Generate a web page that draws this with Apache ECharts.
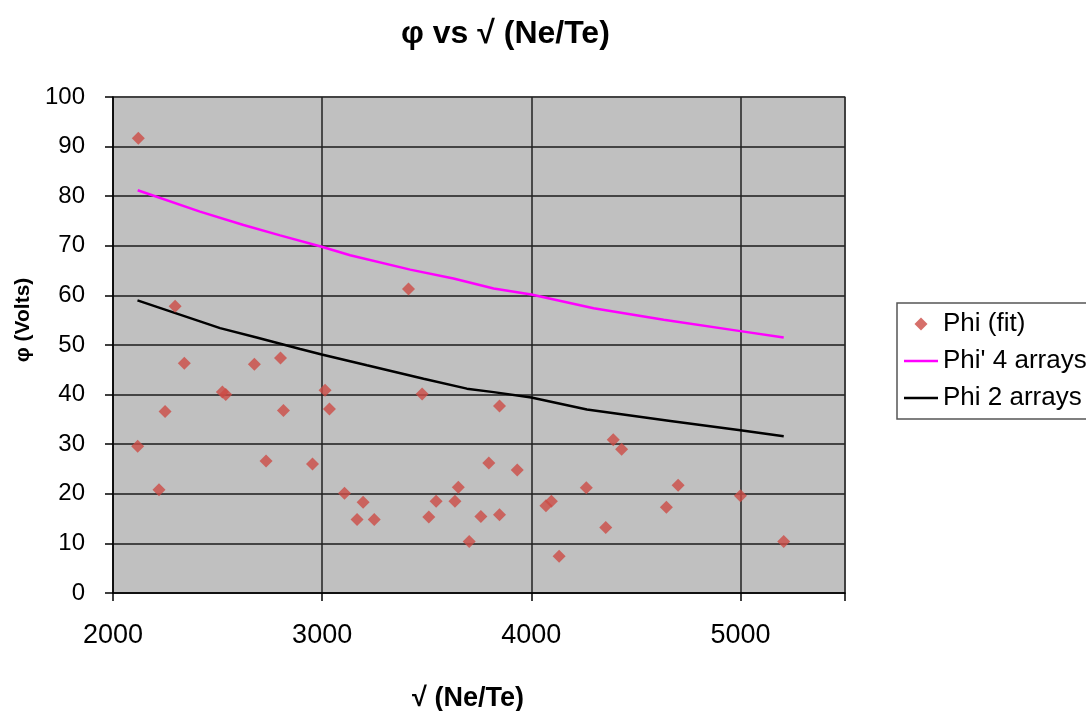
<!DOCTYPE html>
<html>
<head>
<meta charset="utf-8">
<script src="https://cdn.jsdelivr.net/npm/echarts@6/dist/echarts.min.js"></script>
<style>html,body{margin:0;padding:0;background:#fff}#c{width:1086px;height:711px}</style>
</head>
<body>
<div id="c"></div>
<script>
var fitX = [2121,2118,2220,2249,2297,2341,2523,2539,2676,2732,2801,2815,2954,3014,3035,3107,3167,3196,3249,3413,3478,3510,3545,3635,3651,3703,3759,3797,3848,3848,3933,4070,4096,4133,4263,4356,4392,4432,4646,4702,5000,5207];
var fitY = [91.7,29.6,20.8,36.6,57.8,46.3,40.5,40.0,46.1,26.6,47.4,36.8,26.0,40.9,37.1,20.1,14.8,18.3,14.8,61.3,40.1,15.3,18.5,18.5,21.3,10.4,15.4,26.2,37.7,15.8,24.8,17.6,18.5,7.4,21.2,13.2,30.9,29.0,17.3,21.7,19.6,10.4];
var phi4X = [2118,2416,2624,2799,2998,3134,3421,3628,3820,4000,4298,4633,5000,5207];
var phi4Y = [81.2,76.9,74.2,72.1,69.8,68.1,65.2,63.4,61.4,60.2,57.4,55.1,52.8,51.5];
var phi2X = [2117,2512,2687,2895,2998,3214,3485,3692,3820,4000,4266,4665,5000,5207];
var phi2Y = [59.0,53.4,51.5,49.2,48.1,45.9,43.2,41.2,40.5,39.4,37.0,34.7,32.8,31.6];

function pairs(xs, ys){ return xs.map(function(x,i){ return [x, ys[i]]; }); }

var font = 'Liberation Sans, Arial, sans-serif';
var lineIcon = 'path://M0,0 L34,0 L34,2.5 L0,2.5 Z';
var chart = echarts.init(document.getElementById('c'), null, {renderer:'canvas'});
chart.setOption({
  animation: false,
  backgroundColor: '#ffffff',
  title: {
    text: 'φ vs √ (Ne/Te)',
    left: 396, top: 13,
    textStyle: {fontFamily: font, fontWeight: 'bold', fontSize: 32, color: '#000'}
  },
  legend: {
    orient: 'vertical',
    left: 897, top: 303,
    padding: [8, 12, 8, 7],
    itemGap: 11,
    itemWidth: 34, itemHeight: 13,
    symbolKeepAspect: true,
    borderColor: '#555', borderWidth: 1.5, borderRadius: 0,
    textStyle: {fontFamily: font, fontSize: 26, color: '#000'},
    data: [
      {name: 'Phi (fit)', icon: 'path://M5,0 L10,5 L5,10 L0,5 Z'},
      {name: "Phi' 4 arrays", icon: lineIcon},
      {name: 'Phi 2 arrays', icon: lineIcon}
    ]
  },
  grid: {
    left: 113, right: 241, top: 97, bottom: 118,
    outerBoundsMode: 'none', containLabel: false,
    show: true, backgroundColor: '#c0c0c0', borderColor: '#8a8a8a', borderWidth: 1.5
  },
  xAxis: {
    type: 'value', min: 2000, max: 5500, interval: 1000,
    name: '√ (Ne/Te)', nameLocation: 'middle', nameGap: 92,
    nameTextStyle: {fontFamily: font, fontWeight: 'bold', fontSize: 27, color: '#000', padding: [0, 22, 0, 0]},
    axisLine: {show: true, onZero: false, lineStyle: {color: '#000', width: 1.5}},
    axisTick: {show: true, inside: false, length: 8, lineStyle: {color: '#000', width: 1.5}},
    axisLabel: {fontFamily: font, fontSize: 27, color: '#000', margin: 29,
      formatter: function(v){ return v === 5500 ? '' : String(v); }},
    splitLine: {show: true, lineStyle: {color: '#222', width: 1.5}}
  },
  yAxis: {
    type: 'value', min: 0, max: 100, interval: 10,
    name: 'φ (Volts)', nameLocation: 'middle', nameGap: 78, nameRotate: 90,
    nameTextStyle: {fontFamily: font, fontWeight: 'bold', fontSize: 21, color: '#000', padding: [0, 0, 0, 50]},
    axisLine: {show: true, lineStyle: {color: '#000', width: 1.5}},
    axisTick: {show: true, inside: false, length: 8, lineStyle: {color: '#000', width: 1.5}},
    axisLabel: {fontFamily: font, fontSize: 24, color: '#000', margin: 28},
    splitLine: {show: true, lineStyle: {color: '#444', width: 2}}
  },
  series: [
    {
      name: 'Phi (fit)', type: 'scatter', symbol: 'diamond', symbolSize: 13,
      itemStyle: {color: '#cc4b45'},
      data: pairs(fitX, fitY), z: 5
    },
    {
      name: "Phi' 4 arrays", type: 'line', symbol: 'none', smooth: false,
      lineStyle: {color: '#ff00ff', width: 2.5}, itemStyle: {color: '#ff00ff'},
      data: pairs(phi4X, phi4Y), z: 3
    },
    {
      name: 'Phi 2 arrays', type: 'line', symbol: 'none', smooth: false,
      lineStyle: {color: '#000000', width: 2.5}, itemStyle: {color: '#000000'},
      data: pairs(phi2X, phi2Y), z: 3
    }
  ]
});
</script>
</body>
</html>
